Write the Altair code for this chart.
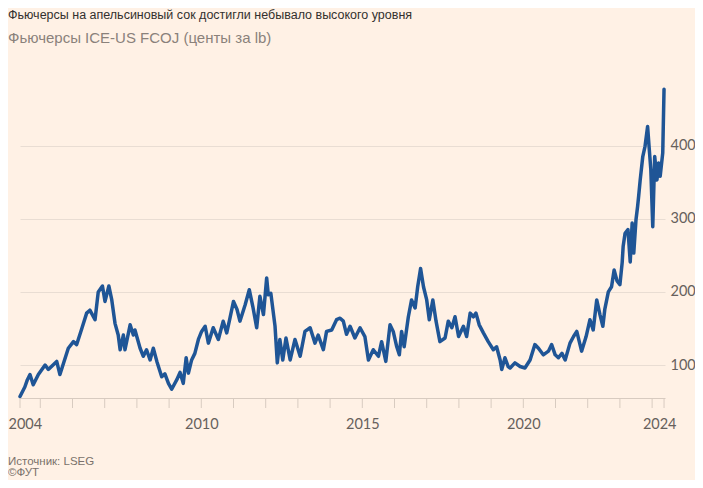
import altair as alt
import pandas as pd

# Values (fractional year, US cents per lb)
years = [
    2004.37, 2004.52, 2004.60, 2004.68, 2004.78, 2004.94, 2005.15, 2005.25, 2005.51, 2005.61,
    2005.87, 2006.03, 2006.13, 2006.29, 2006.44, 2006.54, 2006.70, 2006.80, 2006.93, 2007.01,
    2007.13, 2007.22, 2007.32, 2007.42, 2007.48, 2007.58, 2007.63, 2007.79, 2007.89, 2007.94,
    2008.10, 2008.20, 2008.30, 2008.41, 2008.51, 2008.62, 2008.77, 2008.87, 2008.98, 2009.08,
    2009.24, 2009.34, 2009.44, 2009.53, 2009.60, 2009.70, 2009.80, 2009.91,
    2010.01, 2010.12, 2010.22, 2010.37, 2010.53, 2010.68, 2010.79, 2010.89, 2011.00, 2011.11,
    2011.20, 2011.36, 2011.49, 2011.60, 2011.72, 2011.82, 2011.93, 2012.03, 2012.08, 2012.16,
    2012.29, 2012.36, 2012.44, 2012.53, 2012.63, 2012.76, 2012.91, 2013.07, 2013.22, 2013.38,
    2013.53, 2013.63, 2013.79, 2013.89, 2014.05, 2014.20, 2014.31, 2014.41, 2014.51,
    2014.62, 2014.77, 2014.93, 2015.08, 2015.19, 2015.34, 2015.50, 2015.60, 2015.73, 2015.86,
    2015.96, 2016.07, 2016.15, 2016.22, 2016.30, 2016.43, 2016.53, 2016.64, 2016.72, 2016.81,
    2016.90, 2017.00, 2017.08, 2017.19, 2017.29, 2017.41, 2017.57, 2017.67, 2017.78, 2017.88,
    2017.99, 2018.14, 2018.24, 2018.35, 2018.45, 2018.53, 2018.63, 2018.76, 2018.91, 2019.07,
    2019.17, 2019.28, 2019.33, 2019.43, 2019.53,
    2019.59, 2019.74, 2019.90, 2020.05, 2020.21, 2020.36, 2020.47, 2020.62, 2020.78, 2020.88,
    2020.99, 2021.09, 2021.20, 2021.30, 2021.45, 2021.56, 2021.66, 2021.81, 2021.95, 2022.07,
    2022.17, 2022.28, 2022.38, 2022.47, 2022.53, 2022.64, 2022.74, 2022.82, 2022.91, 2023.00,
    2023.07, 2023.10, 2023.16, 2023.25, 2023.32, 2023.38, 2023.43, 2023.50, 2023.55, 2023.58,
    2023.63, 2023.71, 2023.78, 2023.86, 2023.92, 2023.96, 2024.02, 2024.08, 2024.15, 2024.20,
    2024.25, 2024.33, 2024.37,
]
prices = [
    57, 70, 80, 87, 73, 87, 100, 94, 105, 87,
    123, 132, 128, 150, 171, 175, 162, 200, 208, 187,
    208, 189, 157, 141, 121, 141, 121, 155, 141, 148,
    123, 112, 121, 107, 123, 105, 84, 88, 75, 67,
    80, 90, 75, 110, 89, 107, 116, 135,
    146, 153, 130, 151, 135, 160, 144, 164, 187, 176,
    160, 182, 203, 180, 151, 194, 169, 219, 196, 198,
    153, 103, 135, 107, 137, 107, 135, 112, 146, 151,
    130, 141, 121, 146, 148, 162, 164, 160, 142,
    153, 137, 151, 139, 107, 121, 112, 132, 105, 155,
    146, 125, 114, 146, 125, 166, 189, 178, 207, 232,
    207, 189, 162, 189, 160, 132, 137, 160, 151, 166,
    139, 153, 139, 171, 166, 171, 155, 144, 132, 121,
    125, 107, 94, 110, 98,
    96, 103, 98, 96, 107, 128, 123, 114, 119, 128,
    114, 110, 116, 107, 130, 139, 146, 119, 139, 162,
    148, 189, 169, 153, 176, 200, 207, 230, 215, 210,
    240, 262, 280, 285, 241, 294, 253, 299, 317, 330,
    353, 385, 399, 426, 390, 367, 289, 385, 353, 376,
    358, 390, 477,
]

y_ticks = [100, 200, 300, 400]
x_ticks = [2004.37] + list(range(2005, 2025)) + [2024.37]
x_labeled = [2004.37, 2010, 2015, 2020, 2024.37]

title_text = "Фьючерсы на апельсиновый сок достигли небывало высокого уровня"
subtitle_text = "Фьючерсы ICE-US FCOJ (центы за lb)"
source_text = "Источник: LSEG"
credit_text = "©ФУТ"

BG = "#FFF1E5"
LINE = "#1f5596"
GRID = "#e9ddd3"
AXIS = "#d8cbc0"
LABEL = "#66605c"
REGULAR = "Liberation Sans, Arial, sans-serif"
NUM = "Lato, Open Sans, sans-serif"

PLOT_W = 645
PLOT_H = 311

df = pd.DataFrame({"year": years, "price": prices})
ticks_df = pd.DataFrame({"year": x_ticks})

x_scale = alt.Scale(domain=[2004.37, 2024.40], nice=False, zero=False)

line = alt.Chart(df).mark_line(
    color=LINE, strokeWidth=3.5, strokeJoin="round", strokeCap="round"
).encode(
    x=alt.X(
        "year:Q",
        scale=x_scale,
        axis=alt.Axis(
            values=x_labeled, format="d", grid=False, ticks=False,
            domainColor=AXIS, labelPadding=19,
            labelFlush=1, labelFlushOffset=12, labelOverlap=False,
            labelColor=LABEL, labelFont=NUM, labelFontSize=14.5, title=None,
        ),
    ),
    y=alt.Y(
        "price:Q",
        scale=alt.Scale(domain=[55, 480], nice=False, zero=False),
        axis=alt.Axis(
            orient="right", values=y_ticks, domain=False, ticks=False,
            labelPadding=5, grid=True, gridColor=GRID, labelColor=LABEL,
            labelFont=NUM, labelFontSize=14.5, labelBaseline="middle", title=None,
        ),
    ),
)

tick_marks = alt.Chart(ticks_df).mark_rule(color=AXIS, strokeWidth=1).encode(
    x=alt.X("year:Q", scale=x_scale),
    y=alt.value(PLOT_H),
    y2=alt.value(PLOT_H + 10),
)


def text_layer(s, y, size, color, font):
    return alt.Chart(pd.DataFrame({"t": [s]})).mark_text(
        align="left", baseline="alphabetic", fontSize=size, color=color, font=font
    ).encode(text="t:N", x=alt.value(-12), y=alt.value(y))


chart = alt.layer(
    tick_marks,
    line,
    text_layer(title_text, -68, 12.5, "#33302e", REGULAR),
    text_layer(subtitle_text, -44, 15, "#8a817b", REGULAR),
    text_layer(source_text, 378, 11.5, "#7a716b", REGULAR),
    text_layer(credit_text, 389, 11.5, "#7a716b", REGULAR),
).properties(
    width=PLOT_W,
    height=PLOT_H,
    autosize=alt.AutoSizeParams(type="none"),
    padding={"left": 12, "top": 79, "right": 30, "bottom": 82},
    background=BG,
).configure_view(stroke=None)

chart.save("out.html", embed_options={"renderer": "svg", "actions": False})
